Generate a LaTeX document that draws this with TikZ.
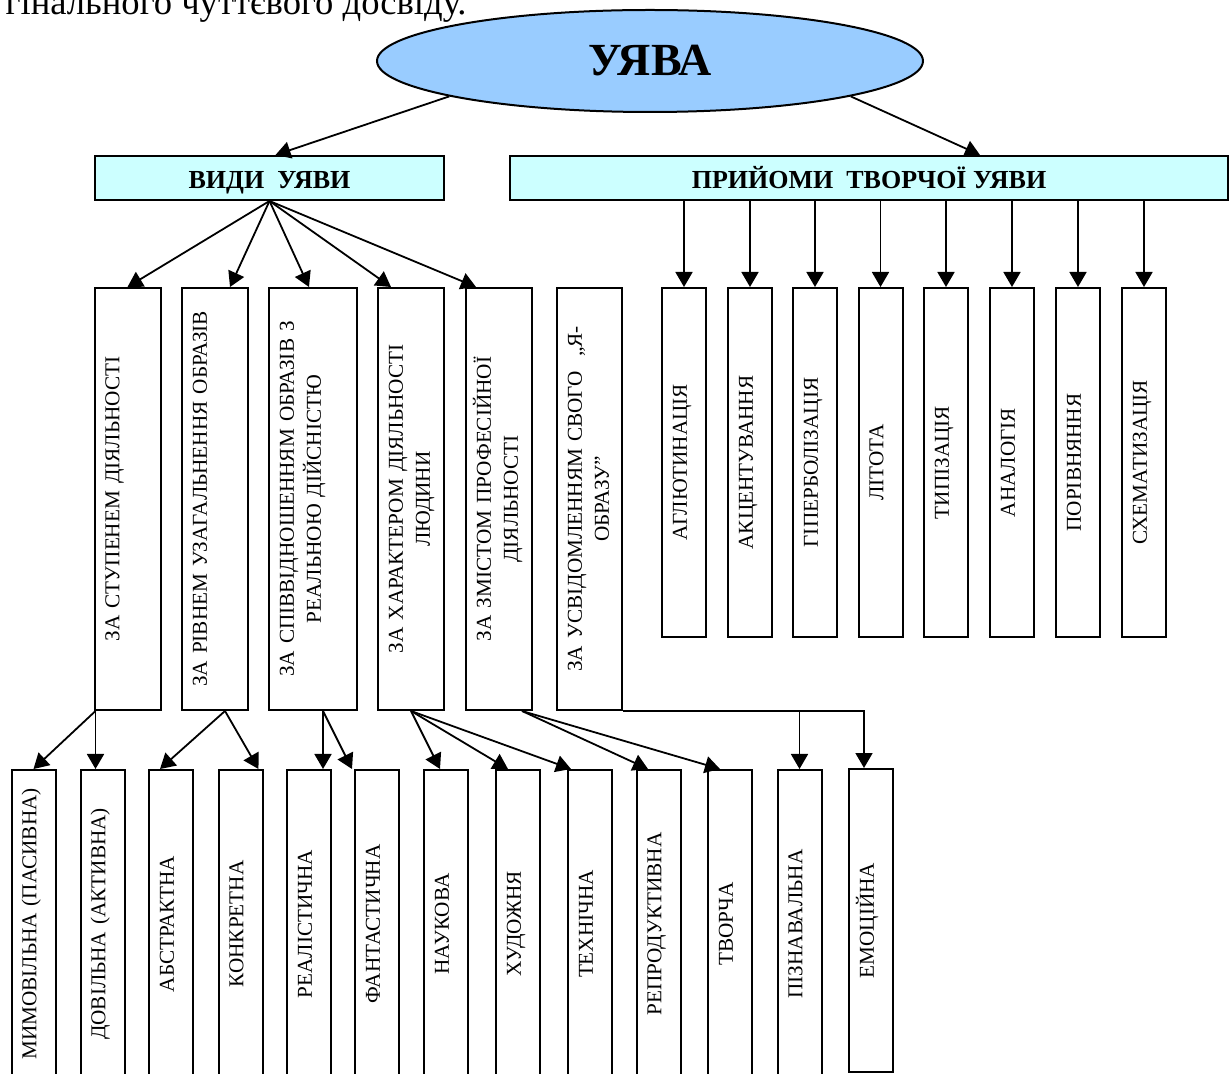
\documentclass[tikz,border=0pt]{standalone}
\usepackage{fontspec}
\setmainfont{Liberation Serif}
\usepackage{graphicx}
\usepackage{tikz}
\usetikzlibrary{arrows.meta,shapes.geometric}
\definecolor{ellblue}{HTML}{99CCFF}
\definecolor{headcyan}{HTML}{CCFFFF}
\newcommand{\boxfont}{\fontsize{10.6}{13.5}\selectfont}
\newcommand{\vlabel}[2][150pt]{\rotatebox{90}{\parbox{#1}{\centering\strut#2\strut}}}
\tikzset{
  arr/.style={-{Triangle[length=7.5pt,width=8.5pt]}, line width=0.9pt},
  root/.style={ellipse, draw, line width=1pt, fill=ellblue, inner sep=0pt,
    minimum width=273pt, minimum height=51pt,
    font=\fontsize{23}{27}\selectfont\bfseries},
  headbox/.style={draw, line width=1pt, fill=headcyan, inner sep=0pt,
    text height=10.5pt, text depth=0pt,
    minimum height=22pt, font=\fontsize{13}{15}\selectfont\bfseries},
  vbox/.style 2 args={draw, line width=1pt, inner xsep=3pt, inner ysep=0pt,
    text width=#1, minimum height=#2, align=left, font=\boxfont}
}
\begin{document}
\begin{tikzpicture}[x=0.5pt, y=-0.5pt]
  \useasboundingbox (0,0) rectangle (1232,1074);
  \node[anchor=base east, inner sep=0pt, font=\fontsize{18.3}{22}\selectfont] (fragment)
    at (467,15) {гінального чуттєвого досвіду.};
  \node[root] (uyava) at (650,61) {УЯВА};
  \node[headbox, minimum width=174.5pt] (vydy) at (269.5,178) {ВИДИ~~УЯВИ};
  \node[headbox, minimum width=359pt] (prijomy) at (869,178) {ПРИЙОМИ~~ТВОРЧОЇ УЯВИ};
  \draw[arr] (uyava.190) -- ([xshift=3pt]vydy.north);
  \draw[arr] (uyava.-10) -- ([xshift=55.5pt]prijomy.north);
  \foreach \x/\w/\nm/\txt in {127.5/27pt/b1/{ЗА СТУПЕНЕМ ДІЯЛЬНОСТІ},
      215/27pt/b2/{ЗА РІВНЕМ УЗАГАЛЬНЕННЯ ОБРАЗІВ},
      313/38pt/b3/{ЗА СПІВВІДНОШЕННЯМ ОБРАЗІВ З\\РЕАЛЬНОЮ ДІЙСНІСТЮ},
      411/27pt/b4/{ЗА ХАРАКТЕРОМ ДІЯЛЬНОСТІ\\ЛЮДИНИ},
      499/27pt/b5/{ЗА ЗМІСТОМ ПРОФЕСІЙНОЇ\\ДІЯЛЬНОСТІ},
      589.5/26.5pt/b6/{ЗА УСВІДОМЛЕННЯМ СВОГО~~„Я-\\ОБРАЗУ”}}
    \node[vbox={\w}{211pt}] (\nm) at (\x,499) {\vlabel[190pt]{\txt}};
  \foreach \nm/\s in {b1/0pt, b2/7.5pt, b3/-2pt, b4/-10pt, b5/-11.5pt}
    \draw[arr] (vydy.south) -- ([xshift=\s]\nm.north);
  \foreach \x/\nm/\txt in {684/aglut/АГЛЮТИНАЦІЯ, 750/akcent/АКЦЕНТУВАННЯ,
      815/giperb/ГІПЕРБОЛІЗАЦІЯ, 880.5/litota/ЛІТОТА, 946/typiz/ТИПІЗАЦІЯ,
      1012/analog/АНАЛОГІЯ, 1078/porivn/ПОРІВНЯННЯ, 1144/schem/СХЕМАТИЗАЦІЯ} {
    \node[vbox={16pt}{174.5pt}] (\nm) at (\x,462.5) {\vlabel{\txt}};
    \draw[arr] (prijomy.south -| \nm.north) -- (\nm.north);
  }
  \foreach \x/\nm/\txt in {33.5/mymov/{МИМОВІЛЬНА (ПАСИВНА)},
      102.5/dovil/{ДОВІЛЬНА (АКТИВНА)}, 171/abstr/АБСТРАКТНА, 240.5/konkr/КОНКРЕТНА,
      309/real/РЕАЛІСТИЧНА, 377/fant/ФАНТАСТИЧНА, 446/nauk/НАУКОВА,
      518/hudozh/ХУДОЖНЯ, 590/tehn/ТЕХНІЧНА, 658.5/reprod/РЕПРОДУКТИВНА,
      730/tvor/ТВОРЧА, 799.5/pizn/ПІЗНАВАЛЬНА}
    \node[vbox={16pt}{154pt}, anchor=north] (\nm) at (\x,769) {\vlabel{\txt}};
  \node[vbox={16pt}{151.5pt}, anchor=north] (emoc) at (871,768) {\vlabel{ЕМОЦІЙНА}};
  \draw[arr] ([xshift=1pt]b1.south west) -- (mymov.north);
  \draw[arr] ([xshift=1pt]b1.south west) -- ([xshift=1pt]b1.south west |- dovil.north);
  \draw[arr] ([xshift=5pt]b2.south) -- ([xshift=-5.5pt]abstr.north);
  \draw[arr] ([xshift=5pt]b2.south) -- ([xshift=-2.5pt]konkr.north east);
  \draw[arr] ([xshift=5pt]b3.south) -- ([xshift=5pt]b3.south |- real.north);
  \draw[arr] ([xshift=5pt]b3.south) -- ([xshift=-1pt]fant.north west);
  \draw[arr] (b4.south) -- ([xshift=-3pt]nauk.north);
  \draw[arr] (b4.south) -- ([xshift=-5pt]hudozh.north);
  \draw[arr] (b4.south) -- ([xshift=2pt]tehn.north west);
  \draw[arr] ([xshift=11.5pt]b5.south) -- ([xshift=-5.25pt]reprod.north);
  \draw[arr] ([xshift=11.5pt]b5.south) -- ([xshift=-5pt]tvor.north);
  \draw[arr] (b6.south east) -| ([xshift=-3.5pt]emoc.north);
  \draw[arr] (b6.south east -| pizn.north) -- (pizn.north);
\end{tikzpicture}
\end{document}
